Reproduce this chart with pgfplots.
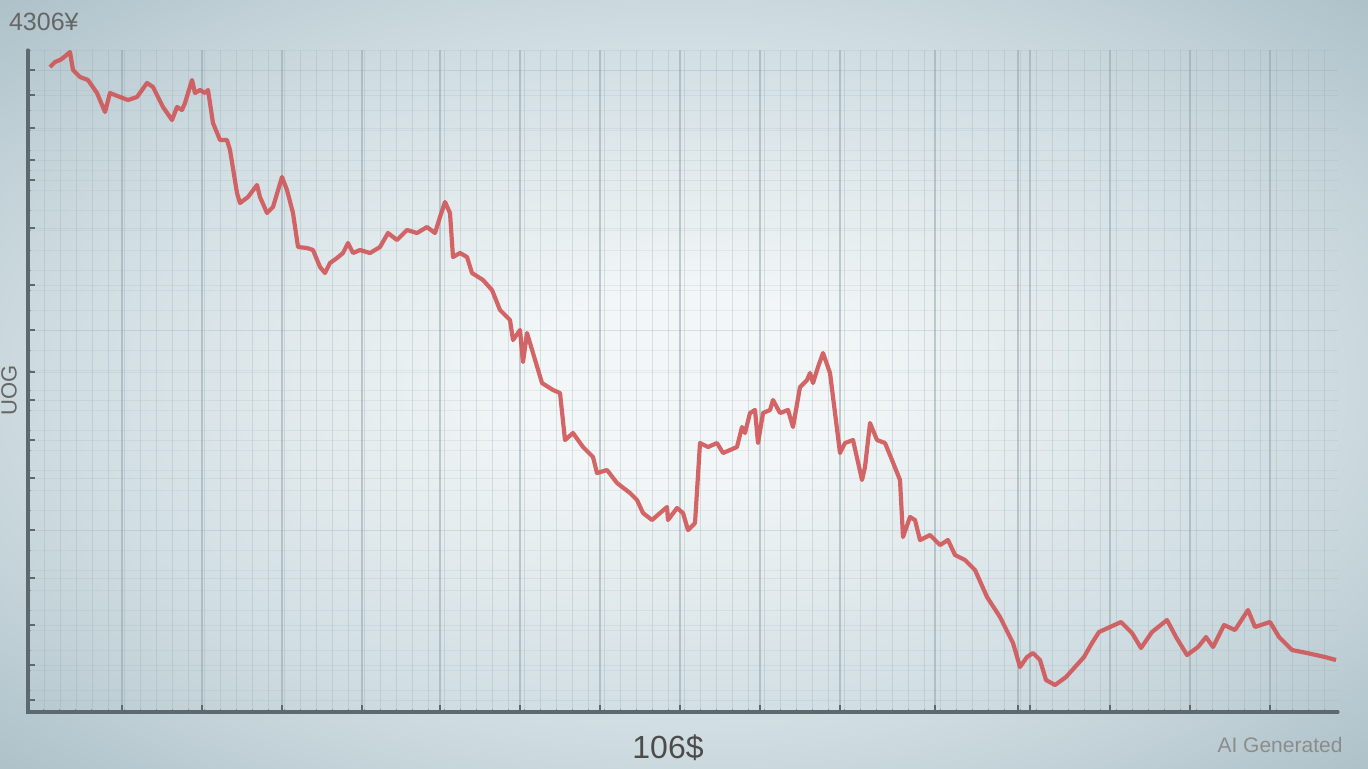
\documentclass[border=0pt]{standalone}
\usepackage{pgfplots}
\pgfplotsset{compat=1.18}
\usepackage{fontspec}
\setmainfont{Liberation Sans}
\definecolor{bginner}{RGB}{242,246,247}
\definecolor{bgmid}{RGB}{205,219,224}
\definecolor{bgouter}{RGB}{150,174,183}
\definecolor{linered}{RGB}{208,82,84}
\definecolor{spine}{RGB}{92,106,112}
\definecolor{gridmaj}{RGB}{140,160,168}
\definecolor{gridmin}{RGB}{150,170,178}
\pgfdeclareradialshading{bgshade}{\pgfpoint{0bp}{0bp}}{color(0bp)=(bginner); color(6bp)=(bginner); color(24bp)=(bgmid); color(44bp)=(bgouter); color(75bp)=(bgouter)}
\pgfplotstableread{
px py
50 67
55 62
60 60
63 58
70 52
73 70
80 77
88 80
97 93
105 112
110 93
120 97
128 100
137 97
147 83
153 87
163 107
172 120
177 107
182 110
185 103
192 80
195 93
200 90
205 93
208 90
213 123
220 140
227 140
230 150
237 193
240 203
248 197
257 185
260 197
267 213
273 207
282 177
287 190
293 213
298 247
307 248
313 250
320 267
325 273
330 263
337 258
343 253
348 243
353 253
360 250
370 253
380 247
388 233
397 240
407 230
417 233
427 227
435 233
440 217
445 202
450 213
453 257
460 253
467 257
472 273
483 280
492 290
500 310
510 320
513 340
520 330
523 362
527 333
533 353
542 383
553 390
560 393
565 440
573 433
583 447
593 457
597 473
607 470
617 483
630 493
637 500
643 513
652 520
660 513
667 507
668 520
677 508
683 513
688 530
695 523
700 443
708 447
717 443
723 453
730 450
737 447
742 427
745 433
750 413
755 410
758 443
763 413
770 410
773 400
780 413
788 410
793 427
800 387
807 380
810 373
813 383
818 367
823 353
830 373
840 453
845 443
853 440
862 480
865 467
870 423
877 440
885 443
892 460
900 480
903 537
910 517
915 520
920 540
930 535
940 545
948 540
955 555
965 560
975 570
987 597
1000 617
1013 643
1020 667
1027 657
1033 653
1040 660
1046 680
1055 685
1066 677
1075 667
1084 657
1092 643
1099 632
1110 627
1121 622
1132 633
1141 648
1152 632
1167 620
1176 637
1187 655
1198 647
1206 637
1213 647
1224 625
1235 630
1248 610
1255 627
1270 622
1279 637
1292 650
1307 653
1325 657
1336 660
}\pricedata
\begin{document}
\begin{tikzpicture}
\useasboundingbox (0,0) rectangle (684pt,384pt);
\shade[shading=bgshade] (0,0) rectangle (684pt,384pt);
\begin{axis}[
  at={(14pt,28pt)}, anchor=south west,
  scale only axis, width=655pt, height=331pt,
  xmin=28, xmax=1338, ymin=50, ymax=712,
  y dir=reverse,
  axis line style={draw=none},
  xtick pos=left, ytick pos=left,
  tick align=inside,
  xtick={122,202,282,362,440,520,600,680,760,840,935,1018,1030,1110,1190,1270},
  ytick={70,95,128,160,180,228,285,330,372,400,440,478,530,578,625,665,700},
  minor xtick={28,44,...,1338},
  minor ytick={50,70,...,712},
  xticklabels={}, yticklabels={},
  major tick length=3.5pt, minor tick length=1.5pt,
  every tick/.style={spine, line width=0.8pt},
  minor tick style={spine!70, line width=0.5pt},
  xmajorgrids, xminorgrids, ymajorgrids, yminorgrids,
  major grid style={gridmaj, opacity=0.5, line width=0.7pt},
  minor grid style={gridmin, opacity=0.3, line width=0.45pt},
  y grid style={opacity=0.15, line width=0.4pt},
  clip=false,
]
\addplot[linered, line width=2.1pt, line join=round, opacity=0.88] table[x=px, y=py] {\pricedata};
\draw[spine, line width=1.6pt, line cap=round] (axis cs:28,50) -- (axis cs:28,712) -- (axis cs:1338,712);
\end{axis}
\node[text=black!60, font=\fontsize{12.5}{14}\selectfont, anchor=west] at (1pt,373pt) {4306¥};
\node[text=black!60, font=\fontsize{11}{13}\selectfont, rotate=90] at (4.5pt,189pt) {UOG};
\node[text=black!70, font=\fontsize{16}{18}\selectfont] at (334pt,10pt) {106\$};
\node[text=black!45, font=\fontsize{10.5}{12}\selectfont] at (640pt,11.5pt) {AI Generated};
\end{tikzpicture}
\end{document}
